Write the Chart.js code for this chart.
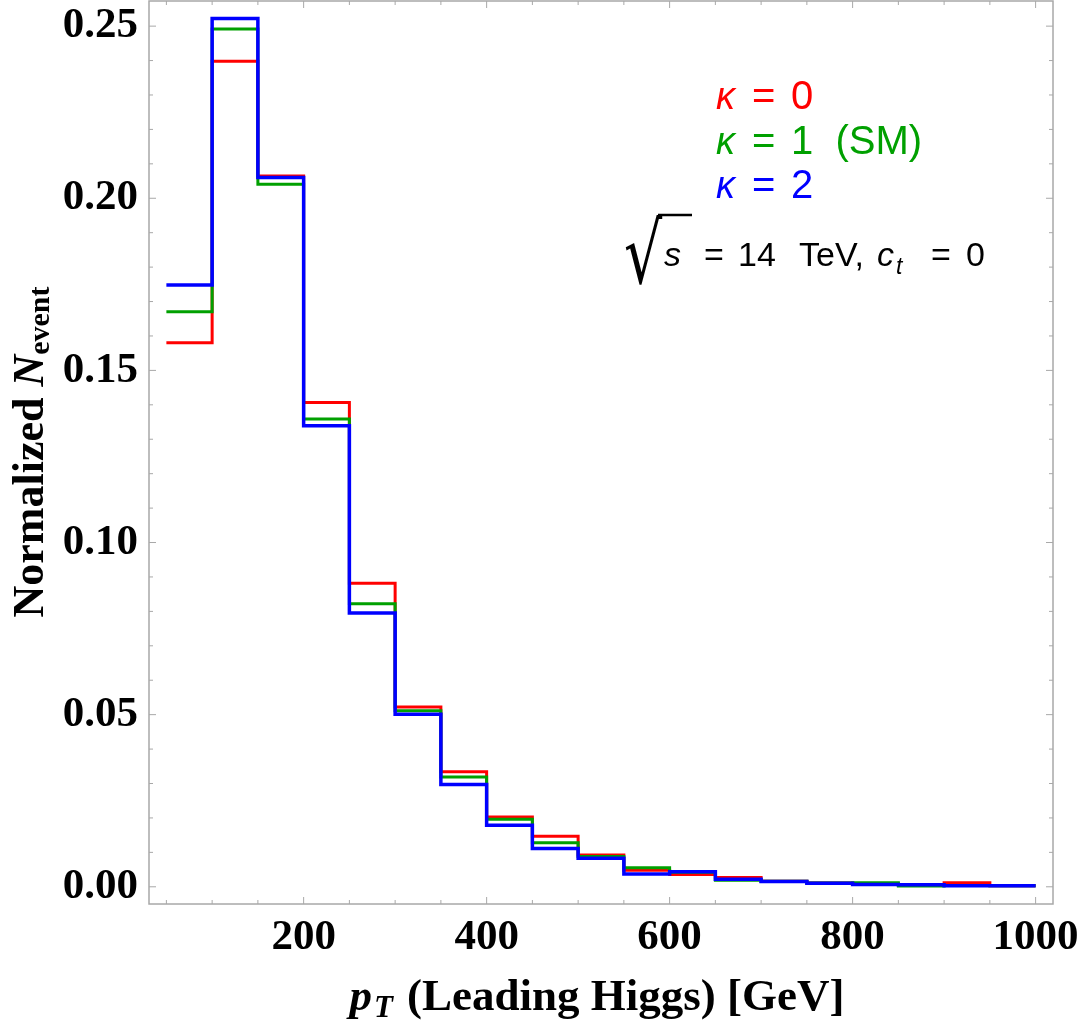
<!DOCTYPE html>
<html>
<head>
<meta charset="utf-8">
<script src="https://cdn.jsdelivr.net/npm/chart.js@4.4.1/dist/chart.umd.min.js"></script>
<style>
  html, body { margin: 0; background: #fff; }
  canvas { display: block; }
</style>
</head>
<body>
<canvas id="chart" width="1084" height="1024"></canvas>
<script>
// bin edges of the pT histogram (GeV)
const binEdges = [50, 100, 150, 200, 250, 300, 350, 400, 450, 500, 550, 600, 650, 700, 750, 800, 850, 900, 950, 1000];

// normalized event fractions per bin
const kappa0 = [0.1580, 0.2398, 0.2065, 0.1407, 0.0882, 0.0522, 0.0334, 0.0203, 0.0147, 0.0092,
                0.0048, 0.0036, 0.0027, 0.0016, 0.0011, 0.0009, 0.0005, 0.0012, 0.0003];
const kappa1 = [0.1670, 0.2492, 0.2041, 0.1359, 0.0822, 0.0511, 0.0319, 0.0196, 0.0128, 0.0088,
                0.0055, 0.0042, 0.0019, 0.0016, 0.0011, 0.0012, 0.0002, 0.0004, 0.0003];
const kappa2 = [0.1748, 0.2522, 0.2060, 0.1339, 0.0795, 0.0501, 0.0297, 0.0179, 0.0111, 0.0083,
                0.0037, 0.0044, 0.0022, 0.0015, 0.0010, 0.0007, 0.0006, 0.0003, 0.0003];

const xTickLabels = [200, 400, 600, 800, 1000];
const yTickLabels = [0, 0.05, 0.10, 0.15, 0.20, 0.25];

const RED = '#ff0000', GREEN = '#00a000', BLUE = '#0000ff';
const SERIF = '"Liberation Serif", "Times New Roman", serif';
const SANS = '"Liberation Sans", Arial, sans-serif';

// one point per bin edge; the last edge repeats the last bin so the step closes at 1000
function steps(vals) {
  return binEdges.map((x, i) => ({ x, y: vals[Math.min(i, vals.length - 1)] }));
}

const frameTicks = {
  id: 'frameTicks',
  beforeDatasetsDraw(chart) {
    const { ctx, chartArea: a, scales: { x, y } } = chart;
    ctx.save();
    ctx.strokeStyle = '#a8a8a8';
    ctx.lineWidth = 1.5;
    ctx.strokeRect(a.left, a.top, a.right - a.left, a.bottom - a.top);
    ctx.lineWidth = 1;
    const seg = (x1, y1, x2, y2) => { ctx.beginPath(); ctx.moveTo(x1, y1); ctx.lineTo(x2, y2); ctx.stroke(); };
    for (let v = 50; v <= 1000; v += 50) {
      const px = x.getPixelForValue(v), len = v % 200 === 0 ? 7 : 4;
      seg(px, a.bottom, px, a.bottom - len);
      seg(px, a.top, px, a.top + len);
    }
    for (let k = 0; k <= 25; k++) {
      const py = y.getPixelForValue(k / 100), len = k % 5 === 0 ? 7 : 4;
      seg(a.left, py, a.left + len, py);
      seg(a.right, py, a.right - len, py);
    }
    ctx.restore();
  },
  afterDraw(chart) {
    const { ctx } = chart;
    ctx.save();
    ctx.fillStyle = '#000';
    ctx.textBaseline = 'alphabetic';
    ctx.textAlign = 'left';

    // x title: p_T (Leading Higgs) [GeV]
    const main = '(Leading Higgs) [GeV]';
    ctx.font = `bold italic 45px ${SERIF}`;
    const wp = ctx.measureText('p').width;
    ctx.font = `bold italic 31px ${SERIF}`;
    const wt = ctx.measureText('T').width;
    ctx.font = `bold 45px ${SERIF}`;
    const wm = ctx.measureText(main).width;
    const gap = 16;
    let tx = 597 - (wp + wt + gap + wm) / 2;
    ctx.font = `bold italic 45px ${SERIF}`;
    ctx.fillText('p', tx, 1010);
    ctx.font = `bold italic 31px ${SERIF}`;
    ctx.fillText('T', tx + wp + 2, 1017);
    ctx.font = `bold 45px ${SERIF}`;
    ctx.fillText(main, tx + wp + wt + gap, 1010);

    // y title: Normalized N_event
    ctx.save();
    ctx.font = `bold 44px ${SERIF}`;
    const w1 = ctx.measureText('Normalized ').width;
    ctx.font = `bold italic 44px ${SERIF}`;
    const w2 = ctx.measureText('N').width;
    ctx.font = `bold 30px ${SERIF}`;
    const w3 = ctx.measureText('event').width;
    ctx.translate(43, 452 + (w1 + w2 + w3) / 2);
    ctx.rotate(-Math.PI / 2);
    ctx.font = `bold 44px ${SERIF}`;
    ctx.fillText('Normalized ', 0, 0);
    ctx.font = `bold italic 44px ${SERIF}`;
    ctx.fillText('N', w1, 0);
    ctx.font = `bold 30px ${SERIF}`;
    ctx.fillText('event', w1 + w2, 6);
    ctx.restore();

    // legend block
    const rows = [
      { color: RED, val: '0', base: 109 },
      { color: GREEN, val: '1 (SM)', base: 154 },
      { color: BLUE, val: '2', base: 198 },
    ];
    rows.forEach(r => {
      ctx.fillStyle = r.color;
      ctx.font = `italic 38px ${SANS}`;
      ctx.fillText('κ', 716, r.base);
      ctx.font = `40px ${SANS}`;
      ctx.fillText('=', 752, r.base);
      ctx.fillText(r.val.replace(' ', '  '), 791, r.base);
    });

    // sqrt(s) = 14 TeV, c_t = 0
    ctx.fillStyle = '#000';
    ctx.save();
    ctx.translate(624, 283);
    ctx.scale(1, 1.4);
    ctx.font = `60px "DejaVu Sans", sans-serif`;
    ctx.fillText('√', 0, 0);
    ctx.restore();
    ctx.strokeStyle = '#000';
    ctx.lineWidth = 2.5;
    ctx.beginPath();
    ctx.moveTo(658, 215);
    ctx.lineTo(692, 215);
    ctx.stroke();
    ctx.font = `italic 34px ${SANS}`;
    ctx.fillText('s', 664, 266);
    ctx.font = `34px ${SANS}`;
    ctx.fillText('=', 704, 266);
    ctx.fillText('14', 738, 266);
    ctx.fillText('TeV,', 799, 266);
    ctx.font = `italic 34px ${SANS}`;
    ctx.fillText('c', 877, 266);
    ctx.font = `italic 23px ${SANS}`;
    ctx.fillText('t', 896, 274);
    ctx.font = `34px ${SANS}`;
    ctx.fillText('=', 931, 266);
    ctx.fillText('0', 966, 266);
    ctx.restore();
  }
};

new Chart(document.getElementById('chart'), {
  type: 'line',
  data: {
    datasets: [
      { label: 'κ = 2', data: steps(kappa2), borderColor: BLUE, borderWidth: 3.5, order: 0 },
      { label: 'κ = 1 (SM)', data: steps(kappa1), borderColor: GREEN, borderWidth: 3, order: 1 },
      { label: 'κ = 0', data: steps(kappa0), borderColor: RED, borderWidth: 3, order: 2 },
    ].map(d => ({ ...d, stepped: 'before', pointRadius: 0, fill: false, tension: 0 })),
  },
  options: {
    responsive: false,
    animation: false,
    events: [],
    layout: { padding: { top: 1, right: 31, left: 0, bottom: 0 } },
    plugins: { legend: { display: false }, tooltip: { enabled: false } },
    scales: {
      x: {
        type: 'linear',
        min: 31,
        max: 1019,
        afterBuildTicks: s => { s.ticks = xTickLabels.map(v => ({ value: v })); },
        afterFit: s => { s.height = 120; s.paddingLeft = 0; s.paddingRight = 0; },
        grid: { display: false, drawTicks: false },
        border: { display: false },
        ticks: {
          color: '#000',
          padding: 8,
          maxRotation: 0,
          autoSkip: false,
          callback: v => String(v),
          font: { family: SERIF, size: 43, weight: 'bold' },
        },
      },
      y: {
        type: 'linear',
        min: -0.005,
        max: 0.2573,
        afterBuildTicks: s => { s.ticks = yTickLabels.map(v => ({ value: v })); },
        afterFit: s => { s.width = 149; s.paddingTop = 0; s.paddingBottom = 0; },
        grid: { display: false, drawTicks: false },
        border: { display: false },
        ticks: {
          color: '#000',
          padding: 11,
          autoSkip: false,
          callback: v => v.toFixed(2),
          font: { family: SERIF, size: 43, weight: 'bold' },
        },
      },
    },
  },
  plugins: [frameTicks],
});
</script>
</body>
</html>
